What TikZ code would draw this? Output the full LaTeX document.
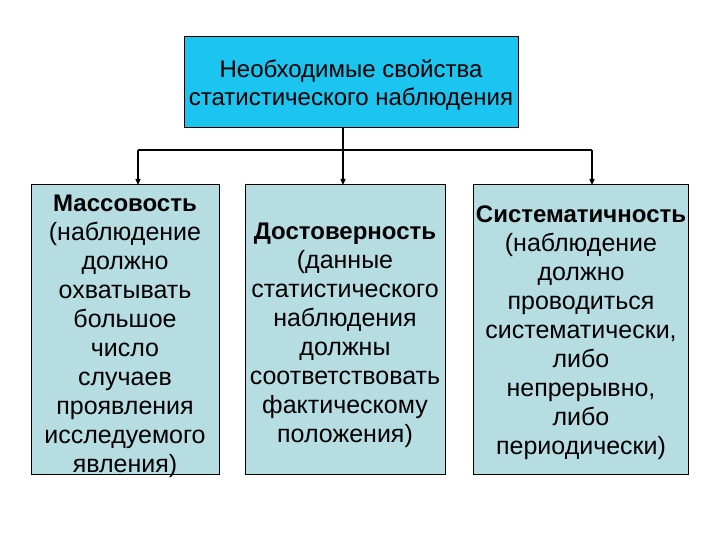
\documentclass[tikz,border=0pt]{standalone}
\usepackage{fontspec}
\setmainfont{Liberation Sans}
\usetikzlibrary{arrows.meta}
\definecolor{topcyan}{HTML}{1CC4F0}
\definecolor{boxblue}{HTML}{B6DDE2}
\newcommand{\hd}[1]{{\fontsize{24}{29}\selectfont\bfseries #1}}
\tikzset{
  box/.style={draw=black, line width=1pt, fill=boxblue},
  topbox/.style={draw=black, line width=1pt, fill=topcyan},
  txt/.style={align=center, font=\fontsize{25}{29}\selectfont, inner sep=0pt},
  conn/.style={line width=1.3pt, -{Triangle[length=6pt,width=5pt]}},
  plain/.style={line width=1.3pt}
}
\begin{document}
\begin{tikzpicture}[x=1pt,y=-1pt]
\useasboundingbox (0,0) rectangle (720,540);
\fill[white] (0,0) rectangle (720,540);
% boxes
\draw[topbox] (184,37) rectangle (518,128);
\draw[box] (31,185) rectangle (219,474);
\draw[box] (245,185) rectangle (445,474);
\draw[box] (473,185) rectangle (688,474);
\node[txt, font=\fontsize{24}{28}\selectfont] (top) at (351,85) {Необходимые свойства\\статистического наблюдения};
\coordinate (topb) at (343,128);
\coordinate (j) at (343,150);
\coordinate (jl) at (138,150);
\coordinate (jr) at (592,150);
\coordinate (la) at (138,185);
\coordinate (ma) at (343,185);
\coordinate (ra) at (592,185);
\node[txt] (left) at (125,336) {\hd{Массовость}\\(наблюдение\\должно\\охватывать\\большое\\число\\случаев\\проявления\\исследуемого\\явления)};
\node[txt] (mid) at (345,335) {\hd{Достоверность}\\(данные\\статистического\\наблюдения\\должны\\соответствовать\\фактическому\\положения)};
\node[txt] (right) at (581,333) {\hd{Систематичность}\\(наблюдение\\должно\\проводиться\\систематически,\\либо\\непрерывно,\\либо\\периодически)};
% connectors
\draw[conn] (topb) -- (ma);
\draw[plain] (jl) -- (jr);
\draw[conn] (jl) -- (la);
\draw[conn] (jr) -- (ra);
\end{tikzpicture}
\end{document}
